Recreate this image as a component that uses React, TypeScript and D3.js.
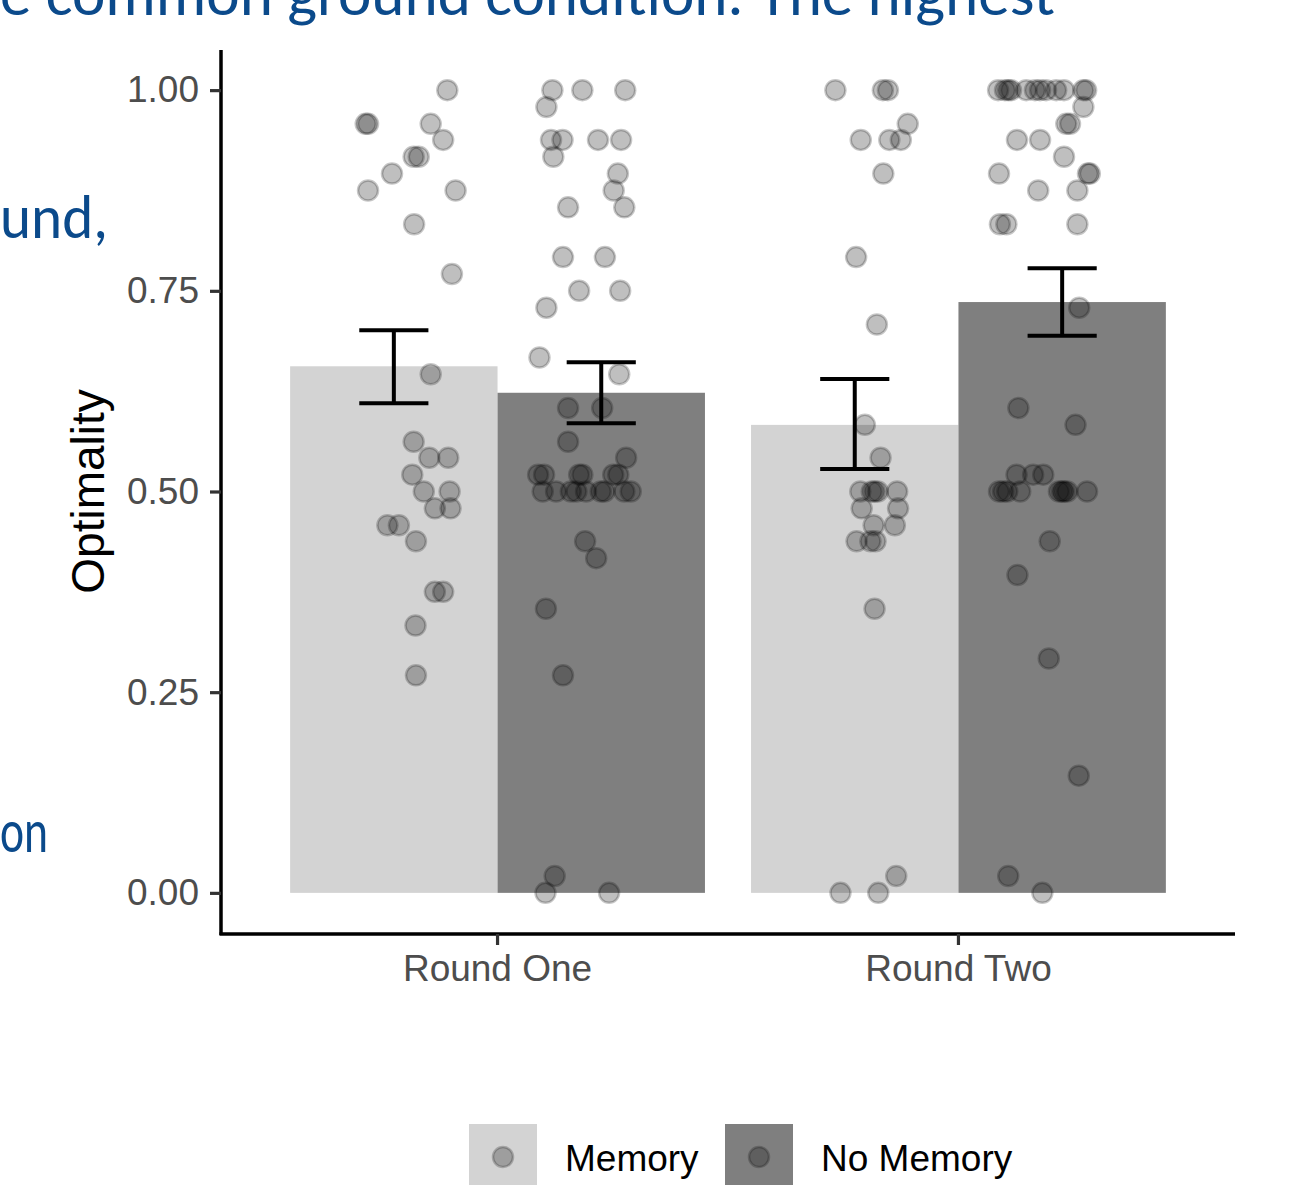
import { axisBottom, axisLeft, format, scaleBand, scaleLinear, select } from "d3";
import React, { useEffect, useRef } from "react";

const rounds = ["Round One", "Round Two"];
const conditions = ["Memory", "No Memory"];

// bar heights (mean optimality) and standard error limits, per round
const memoryMeans = [0.656, 0.583];
const noMemoryMeans = [0.623, 0.736];
const memoryLower = [0.61, 0.528];
const memoryUpper = [0.701, 0.64];
const noMemoryLower = [0.585, 0.694];
const noMemoryUpper = [0.661, 0.778];

const yTicks = [0, 0.25, 0.5, 0.75, 1];

// participants: [optimality, horizontal jitter in category units]
const roundOneMemory = [
    [1.0, 0.116], [0.958, -0.061], [0.958, -0.056], [0.958, 0.08], [0.938, 0.107],
    [0.917, 0.043], [0.917, 0.054], [0.896, -0.004], [0.875, -0.056], [0.875, 0.134],
    [0.833, 0.044], [0.771, 0.126], [0.646, 0.08], [0.562, 0.043], [0.542, 0.077],
    [0.542, 0.118], [0.521, 0.04], [0.5, 0.065], [0.5, 0.121], [0.479, 0.089],
    [0.479, 0.123], [0.458, -0.014], [0.458, 0.011], [0.438, 0.048], [0.375, 0.089],
    [0.375, 0.107], [0.333, 0.047], [0.271, 0.048],
];
const roundOneNoMemory = [
    [1.0, -0.106], [1.0, -0.041], [1.0, 0.052], [0.979, -0.119], [0.938, -0.109],
    [0.938, -0.084], [0.938, -0.007], [0.938, 0.043], [0.917, -0.104], [0.896, 0.036],
    [0.875, 0.027], [0.854, 0.05], [0.854, -0.072], [0.792, -0.083], [0.792, 0.008],
    [0.75, -0.048], [0.75, 0.041], [0.729, -0.119], [0.667, -0.134], [0.646, 0.039],
    [0.604, -0.072], [0.604, 0.002], [0.562, -0.072], [0.542, 0.054], [0.521, -0.137],
    [0.521, -0.124], [0.521, -0.048], [0.521, -0.041], [0.521, 0.026], [0.521, 0.037],
    [0.5, -0.127], [0.5, -0.098], [0.5, -0.066], [0.5, -0.054], [0.5, -0.033],
    [0.5, -0.001], [0.5, 0.007], [0.5, 0.05], [0.5, 0.064], [0.438, -0.035],
    [0.417, -0.011], [0.354, -0.12], [0.271, -0.083], [0.021, -0.101], [0.0, -0.121],
    [0.0, 0.017],
];
const roundTwoMemory = [
    [1.0, -0.042], [1.0, 0.061], [1.0, 0.072], [0.958, 0.115], [0.938, 0.013],
    [0.938, 0.075], [0.938, 0.1], [0.896, 0.062], [0.792, 0.003], [0.708, 0.048],
    [0.583, 0.022], [0.542, 0.056], [0.5, 0.012], [0.5, 0.037], [0.5, 0.043],
    [0.5, 0.05], [0.5, 0.092], [0.479, 0.015], [0.479, 0.094], [0.458, 0.041],
    [0.458, 0.087], [0.438, 0.004], [0.438, 0.034], [0.438, 0.045], [0.354, 0.043],
    [0.021, 0.09], [0.0, -0.031], [0.0, 0.051],
];
const roundTwoNoMemory = [
    [1.0, -0.139], [1.0, -0.124], [1.0, -0.117], [1.0, -0.111], [1.0, -0.078],
    [1.0, -0.059], [1.0, -0.048], [1.0, -0.035], [1.0, -0.013], [1.0, 0.004],
    [1.0, 0.046], [1.0, 0.052], [0.979, 0.046], [0.958, 0.009], [0.958, 0.017],
    [0.938, -0.098], [0.938, -0.048], [0.917, 0.004], [0.896, -0.137], [0.896, 0.056],
    [0.896, 0.06], [0.875, -0.052], [0.875, 0.033], [0.833, -0.135], [0.833, -0.121],
    [0.833, 0.033], [0.729, 0.037], [0.604, -0.095], [0.583, 0.029], [0.521, -0.099],
    [0.521, -0.063], [0.521, -0.041], [0.5, -0.137], [0.5, -0.128], [0.5, -0.119],
    [0.5, -0.091], [0.5, -0.007], [0.5, 0.0], [0.5, 0.004], [0.5, 0.011],
    [0.5, 0.054], [0.438, -0.027], [0.396, -0.097], [0.292, -0.029], [0.146, 0.036],
    [0.021, -0.117], [0.0, -0.043],
];

const fills = ["#d3d3d3", "#7f7f7f"];

const App: React.FC = () => {
    const svgRef = useRef<SVGSVGElement>(null);

    useEffect(() => {
        const svg = select(svgRef.current);
        svg.selectAll("*").remove();

        const font = "'Liberation Sans', Arial, sans-serif";

        var x = scaleBand()
            .domain(rounds)
            .range([221, 1235])
            .paddingInner(0.1)
            .paddingOuter(0.15);
        var xSub = scaleBand().domain(conditions).range([0, x.bandwidth()]);
        var y = scaleLinear().domain([-0.05, 1.05]).range([933, 50]);
        // category units -> pixels, used for jitter and error bar caps
        var unit = scaleLinear().domain([0, 1]).range([0, x.step()]);

        // slide text peeking out behind the figure
        const slide = svg.append("g")
            .attr("fill", "#0b4a8b")
            .attr("font-family", "Carlito, 'Open Sans', sans-serif")
            .attr("font-size", 62);
        slide.append("text").attr("x", 0).attr("y", 15)
            .attr("textLength", 1055).attr("lengthAdjust", "spacingAndGlyphs")
            .text("e common ground condition. The highest");
        slide.append("text").attr("x", 0).attr("y", 238)
            .attr("textLength", 108).attr("lengthAdjust", "spacingAndGlyphs")
            .text("und,");
        slide.append("text").attr("x", 0).attr("y", 852)
            .attr("textLength", 48).attr("lengthAdjust", "spacingAndGlyphs")
            .text("on");

        const groups = [
            { means: memoryMeans, lower: memoryLower, upper: memoryUpper, points: [roundOneMemory, roundTwoMemory] },
            { means: noMemoryMeans, lower: noMemoryLower, upper: noMemoryUpper, points: [roundOneNoMemory, roundTwoNoMemory] },
        ];

        const center = (r: string, c: string) => x(r)! + xSub(c)! + xSub.bandwidth() / 2;

        // bars
        groups.forEach((g, j) => {
            svg.append("g")
                .selectAll("rect")
                .data(rounds)
                .enter()
                .append("rect")
                .attr("x", r => x(r)! + xSub(conditions[j])!)
                .attr("width", xSub.bandwidth())
                .attr("y", (r, i) => y(g.means[i]))
                .attr("height", (r, i) => y(0) - y(g.means[i]))
                .attr("fill", fills[j]);
        });

        // jittered participants
        groups.forEach((g, j) => {
            rounds.forEach((r, i) => {
                svg.append("g")
                    .selectAll("circle")
                    .data(g.points[i])
                    .enter()
                    .append("circle")
                    .attr("cx", d => center(r, conditions[j]) + unit(d[1]))
                    .attr("cy", d => y(d[0]))
                    .attr("r", 10)
                    .attr("fill", "#000")
                    .attr("fill-opacity", 0.25)
                    .attr("stroke", "#000")
                    .attr("stroke-opacity", 0.22)
                    .attr("stroke-width", 2.5);
            });
        });

        // error bars
        const cap = unit(0.075);
        groups.forEach((g, j) => {
            rounds.forEach((r, i) => {
                const cx = center(r, conditions[j]);
                const eb = svg.append("g").attr("stroke", "#000").attr("stroke-width", 4);
                eb.append("line").attr("x1", cx).attr("x2", cx)
                    .attr("y1", y(g.upper[i])).attr("y2", y(g.lower[i]));
                eb.append("line").attr("x1", cx - cap).attr("x2", cx + cap)
                    .attr("y1", y(g.upper[i])).attr("y2", y(g.upper[i]));
                eb.append("line").attr("x1", cx - cap).attr("x2", cx + cap)
                    .attr("y1", y(g.lower[i])).attr("y2", y(g.lower[i]));
            });
        });

        // y axis
        svg.append("g")
            .attr("transform", "translate(221,0)")
            .call(axisLeft(y).tickValues(yTicks).tickFormat(format(".2f")).tickSizeInner(11).tickSizeOuter(0).tickPadding(11))
            .call(g => g.select(".domain").attr("stroke", "#000").attr("stroke-width", 3.5).attr("d", "M0,50V935"))
            .call(g => g.selectAll(".tick line").attr("stroke", "#333").attr("stroke-width", 3.2))
            .call(g => g.selectAll(".tick text")
                .attr("fill", "#4d4d4d")
                .attr("font-family", font)
                .attr("font-size", 37));

        // x axis
        svg.append("g")
            .attr("transform", "translate(0,934)")
            .call(axisBottom(x).tickSizeInner(11).tickSizeOuter(0).tickPadding(10))
            .call(g => g.select(".domain").attr("stroke", "#000").attr("stroke-width", 3.5).attr("d", "M219.5,0H1235"))
            .call(g => g.selectAll(".tick line").attr("stroke", "#333").attr("stroke-width", 3.2))
            .call(g => g.selectAll(".tick text")
                .attr("fill", "#4d4d4d")
                .attr("font-family", font)
                .attr("font-size", 37));

        // y axis title
        svg.append("text")
            .attr("transform", "translate(104," + (y(0.5) - 0) + ") rotate(-90)")
            .attr("text-anchor", "middle")
            .attr("font-family", font)
            .attr("font-size", 46)
            .attr("fill", "#000")
            .text("Optimality");

        // legend
        const legendX = [469, 725];
        conditions.forEach((c, j) => {
            const lg = svg.append("g").attr("transform", "translate(" + legendX[j] + ",1124)");
            lg.append("rect").attr("width", 68).attr("height", 68).attr("fill", fills[j]);
            lg.append("circle").attr("cx", 34).attr("cy", 33).attr("r", 10)
                .attr("fill", "#000").attr("fill-opacity", 0.25)
                .attr("stroke", "#000").attr("stroke-opacity", 0.22).attr("stroke-width", 2.5);
            lg.append("text").attr("x", 96).attr("y", 47)
                .attr("font-family", font).attr("font-size", 37).attr("fill", "#000")
                .text(c);
        });
    }, []);

    return (
        <svg
            ref={svgRef}
            width={1294}
            height={1185}
            style={{ position: "absolute", left: 0, top: 0, background: "#fff" }}
        ></svg>
    );
};

export default App;
